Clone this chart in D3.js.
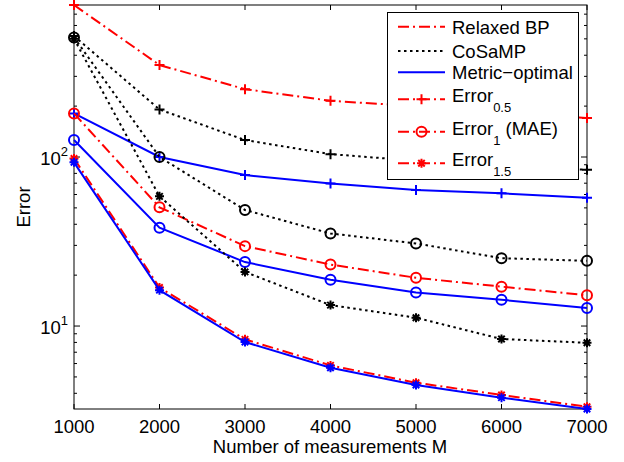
<!DOCTYPE html>
<html>
<head>
<meta charset="utf-8">
<script src="https://cdn.jsdelivr.net/npm/d3@7"></script>
<style>
  body { margin: 0; background: #fff; }
  text { font-family: "Liberation Sans", Arial, sans-serif; }
</style>
</head>
<body>
<svg id="chart" width="624" height="462"></svg>
<script>
// measurements M
const medidas = [1000, 2000, 3000, 4000, 5000, 6000, 7000];

// Relaxed BP
const bp05 = [793, 350, 252, 215, 200, 184, 170];
const bp1 = [181, 50.4, 29.7, 23.1, 19.3, 17.1, 15.2];
const bp15 = [98, 16.9, 8.34, 5.85, 4.62, 3.91, 3.33];

// CoSaMP
const cosa05 = [520, 191, 126, 104, 95, 89, 84];
const cosa1 = [510, 100, 48.6, 35.3, 30.8, 25.2, 24.3];
const cosa15 = [500, 58.5, 20.9, 13.3, 11.2, 8.38, 7.96];

// Metric-optimal
const metric05 = [181, 100, 78.2, 69.8, 63.8, 61, 57.4];
const metric1 = [126, 38.2, 23.9, 18.8, 15.8, 14.3, 12.8];
const metric15 = [93, 16.3, 8.04, 5.67, 4.48, 3.77, 3.23];

const xTicks = [1000, 2000, 3000, 4000, 5000, 6000, 7000];
const yMajor = [10, 100];
const yMinor = [4, 5, 6, 7, 8, 9, 20, 30, 40, 50, 60, 70, 80, 90, 200, 300, 400, 500, 600, 700];

const legendNames = ["Relaxed BP", "CoSaMP", "Metric\u2212optimal"];
const legendErr = [["0.5", ""], ["1", " (MAE)"], ["1.5", ""]];

const estilos = {
   bp: { cor: "#ff0000", dash: "11,4,2,4" },
   cosa: { cor: "#000000", dash: "2.5,3.5" },
   metric: { cor: "#0000ff", dash: null }
};

const svg = d3.select("#chart");
const x = d3.scaleLinear().domain([1000, 7000]).range([74, 587]);
const y = d3.scaleLog().domain([3.23, 793]).range([409, 5]);

// eixos (caixa estilo matlab, ticks para dentro)
function eixos() {
   const g = svg.append("g");
   g.append("rect")
      .attr("x", 74).attr("y", 5)
      .attr("width", 513).attr("height", 404)
      .attr("fill", "none").attr("stroke", "#000").attr("stroke-width", 1);

   xTicks.forEach(t => {
      g.append("line").attr("x1", x(t)).attr("x2", x(t)).attr("y1", 409).attr("y2", 404).attr("stroke", "#000");
      g.append("line").attr("x1", x(t)).attr("x2", x(t)).attr("y1", 5).attr("y2", 10).attr("stroke", "#000");
      g.append("text")
         .attr("x", x(t)).attr("y", 433)
         .attr("text-anchor", "middle")
         .attr("font-size", 18.5)
         .text(t);
   });

   yMinor.forEach(t => {
      g.append("line").attr("x1", 74).attr("x2", 77).attr("y1", y(t)).attr("y2", y(t)).attr("stroke", "#000");
      g.append("line").attr("x1", 587).attr("x2", 584).attr("y1", y(t)).attr("y2", y(t)).attr("stroke", "#000");
   });

   yMajor.forEach(t => {
      g.append("line").attr("x1", 74).attr("x2", 80).attr("y1", y(t)).attr("y2", y(t)).attr("stroke", "#000");
      g.append("line").attr("x1", 587).attr("x2", 581).attr("y1", y(t)).attr("y2", y(t)).attr("stroke", "#000");
      const txt = g.append("text")
         .attr("x", 68).attr("y", y(t) + 8)
         .attr("text-anchor", "end")
         .attr("font-size", 18.5);
      txt.append("tspan").text("10");
      txt.append("tspan").attr("dy", -9).attr("font-size", 13).text(Math.round(Math.log10(t)));
   });

   g.append("text")
      .attr("x", 330).attr("y", 453)
      .attr("text-anchor", "middle")
      .attr("font-size", 18.5)
      .text("Number of measurements M");

   g.append("text")
      .attr("transform", "translate(30,207) rotate(-90)")
      .attr("text-anchor", "middle")
      .attr("font-size", 18.5)
      .text("Error");
}

function marcador(g, tipo, cx, cy, cor) {
   if (tipo === "+") {
      g.append("path")
         .attr("d", `M${cx - 5},${cy}H${cx + 5}M${cx},${cy - 5}V${cy + 5}`)
         .attr("stroke", cor).attr("stroke-width", 2).attr("fill", "none");
   } else if (tipo === "o") {
      g.append("circle")
         .attr("cx", cx).attr("cy", cy).attr("r", 5)
         .attr("stroke", cor).attr("stroke-width", 2).attr("fill", "none");
   } else {
      const r = 4.5, d = r * 0.72;
      g.append("path")
         .attr("d", `M${cx - r},${cy}H${cx + r}M${cx},${cy - r}V${cy + r}M${cx - d},${cy - d}L${cx + d},${cy + d}M${cx - d},${cy + d}L${cx + d},${cy - d}`)
         .attr("stroke", cor).attr("stroke-width", 2).attr("fill", "none");
   }
}

function serie(valores, estilo, tipo) {
   const g = svg.append("g");
   const linha = d3.line().x((d, i) => x(medidas[i])).y(d => y(d));
   g.append("path")
      .attr("d", linha(valores))
      .attr("fill", "none")
      .attr("stroke", estilo.cor)
      .attr("stroke-width", 2)
      .attr("stroke-dasharray", estilo.dash);
   valores.forEach((v, i) => marcador(g, tipo, x(medidas[i]), y(v), estilo.cor));
}

function legenda() {
   const g = svg.append("g");
   g.append("rect")
      .attr("x", 387.5).attr("y", 12.5)
      .attr("width", 191).attr("height", 167)
      .attr("fill", "#fff").attr("stroke", "#000").attr("stroke-width", 1);

   const ys = [26.7, 51, 72.3];
   const est = [estilos.bp, estilos.cosa, estilos.metric];
   legendNames.forEach((nome, i) => {
      g.append("line")
         .attr("x1", 398).attr("x2", 445).attr("y1", ys[i]).attr("y2", ys[i])
         .attr("stroke", est[i].cor).attr("stroke-width", 2)
         .attr("stroke-dasharray", est[i].dash);
      g.append("text")
         .attr("x", 452).attr("y", ys[i] + 7)
         .attr("font-size", 18.5)
         .text(nome);
   });

   const ye = [99.3, 131.7, 163.3];
   const tipos = ["+", "o", "*"];
   legendErr.forEach((e, i) => {
      g.append("line")
         .attr("x1", 398).attr("x2", 445).attr("y1", ye[i]).attr("y2", ye[i])
         .attr("stroke", estilos.bp.cor).attr("stroke-width", 2)
         .attr("stroke-dasharray", estilos.bp.dash);
      marcador(g, tipos[i], 421.5, ye[i], estilos.bp.cor);
      const txt = g.append("text")
         .attr("x", 452).attr("y", ye[i] + 2.8)
         .attr("font-size", 18.5);
      txt.append("tspan").text("Error");
      txt.append("tspan").attr("dy", 10).attr("font-size", 13).text(e[0]);
      if (e[1]) txt.append("tspan").attr("dy", -10).text(e[1]);
   });
}

eixos();
serie(bp05, estilos.bp, "+");
serie(cosa05, estilos.cosa, "+");
serie(metric05, estilos.metric, "+");
serie(bp1, estilos.bp, "o");
serie(cosa1, estilos.cosa, "o");
serie(metric1, estilos.metric, "o");
serie(bp15, estilos.bp, "*");
serie(cosa15, estilos.cosa, "*");
serie(metric15, estilos.metric, "*");
legenda();
</script>
</body>
</html>
